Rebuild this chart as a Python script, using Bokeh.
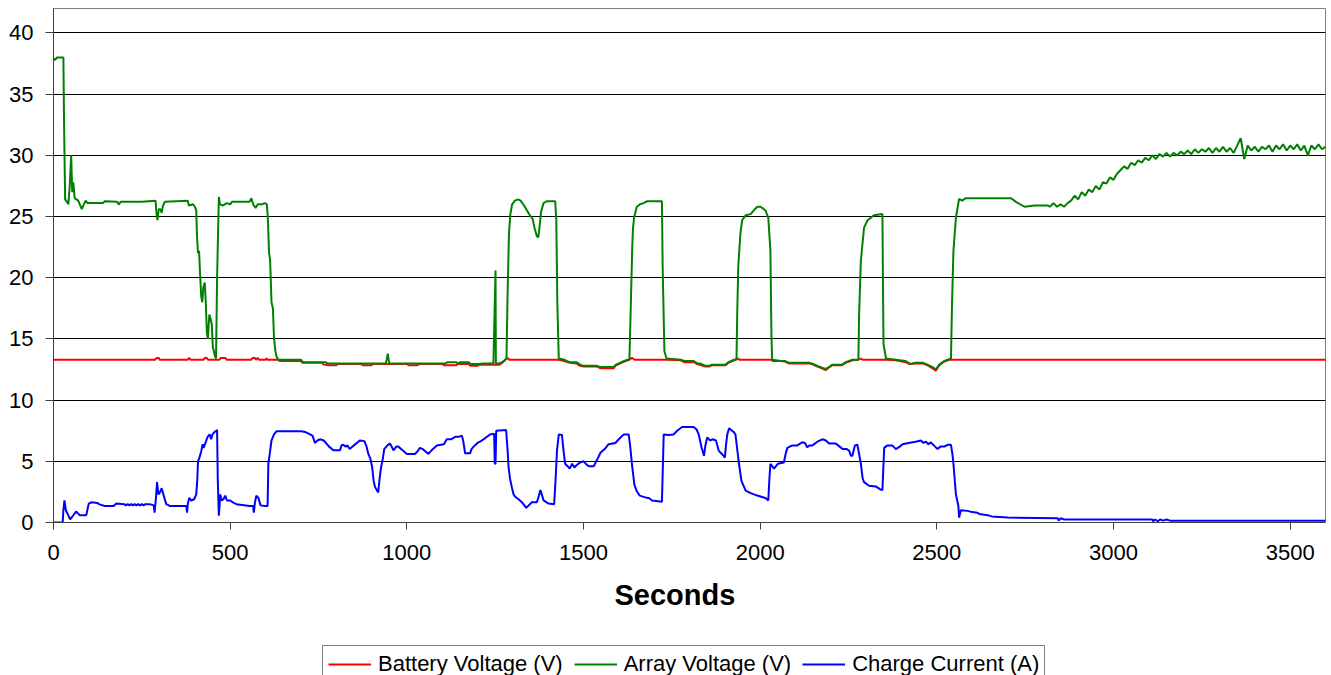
from bokeh.plotting import figure
from bokeh.models import Range1d, FixedTicker, Legend, LegendItem, ColumnDataSource, Title
from bokeh.layouts import column
from bokeh.embed import file_html
from bokeh.resources import INLINE

# ---------------- data ----------------
battery_t = [0, 288, 292, 298, 300, 380, 384, 388, 425, 428, 434, 437, 470, 473, 486, 490,
             560, 563, 570, 573, 578, 582, 600, 603, 606, 636, 640, 700, 705, 760, 765, 780,
             800, 805, 870, 875, 900, 905, 1000, 1005, 1030, 1035, 1100, 1105, 1140, 1145,
             1175, 1180, 1200, 1205, 1262, 1270, 1278, 1285, 1290, 1430, 1445, 1462, 1480,
             1490, 1500, 1538, 1548, 1585, 1592, 1600, 1615, 1630, 1637, 1645, 1735, 1775,
             1785, 1812, 1822, 1845, 1855, 1864, 1902, 1910, 1926, 1935, 1942, 2034, 2070,
             2081, 2138, 2150, 2162, 2175, 2185, 2192, 2204, 2232, 2242, 2261, 2278, 2284,
             2290, 2356, 2384, 2412, 2422, 2440, 2460, 2473, 2488, 2497, 2507, 2521, 2535, 3600]
battery_v = [13.3, 13.3, 13.45, 13.45, 13.3, 13.3, 13.45, 13.3, 13.3, 13.45, 13.45, 13.3, 13.3, 13.45, 13.45, 13.3,
             13.3, 13.45, 13.45, 13.3, 13.45, 13.3, 13.3, 13.4, 13.3, 13.3, 13.2, 13.2, 13.05, 13.05, 12.9, 12.85,
             12.85, 12.95, 12.95, 12.85, 12.85, 12.95, 12.95, 12.85, 12.85, 12.95, 12.95, 12.85, 12.85, 12.95,
             12.95, 12.8, 12.8, 12.9, 12.9, 13.05, 13.25, 13.45, 13.3, 13.3, 13.2, 13.05, 13.0,
             12.8, 12.75, 12.75, 12.6, 12.6, 12.85, 12.95, 13.15, 13.3, 13.45, 13.3, 13.3, 13.25,
             13.1, 13.1, 12.95, 12.75, 12.75, 12.85, 12.85, 13.05, 13.25, 13.4, 13.3, 13.3, 13.15,
             13.0, 13.0, 12.9, 12.75, 12.6, 12.45, 12.6, 12.85, 12.85, 13.05, 13.25, 13.3, 13.4,
             13.3, 13.3, 13.25, 13.1, 12.95, 13.0, 13.0, 12.85, 12.6, 12.4, 12.85, 13.15, 13.3, 13.3]

array_t = [0, 5, 10, 28, 30, 33, 38, 42, 46, 50, 53, 56, 60, 70, 76, 80, 86, 91, 96, 140,
           145, 180, 185, 190, 250, 289, 291, 294, 298, 303, 306, 310, 315, 380, 383, 395,
           400, 404, 406, 409, 412, 415, 418, 421, 424, 428, 431, 434, 437, 441, 445, 448,
           451, 454, 457, 460, 463, 466, 468, 471, 480, 490, 500, 505, 555, 560, 565, 572,
           578, 590, 598, 604, 607, 610, 613, 617, 621, 624, 628, 632, 636, 700, 706, 770,
           775, 940, 943, 946, 950, 1110, 1115, 1140, 1145, 1150, 1175, 1180, 1205, 1215,
           1245, 1248, 1251, 1252, 1262, 1270, 1278, 1282, 1285, 1289, 1293, 1298, 1306,
           1315, 1322, 1334, 1346, 1356, 1362, 1368, 1372, 1375, 1380, 1387, 1396, 1420,
           1423, 1426, 1430, 1445, 1452, 1462, 1480, 1490, 1500, 1538, 1548, 1585, 1592,
           1600, 1615, 1630, 1634, 1638, 1640, 1643, 1651, 1660, 1670, 1680, 1722, 1724,
           1729, 1735, 1775, 1785, 1812, 1822, 1830, 1845, 1855, 1864, 1902, 1910, 1926,
           1933, 1935, 1938, 1944, 1949, 1959, 1973, 1985, 1992, 2001, 2015, 2023, 2029,
           2032, 2034, 2070, 2081, 2138, 2150, 2162, 2175, 2185, 2192, 2204, 2232, 2242,
           2261, 2278, 2280, 2285, 2294, 2304, 2322, 2346, 2349, 2356, 2384, 2412, 2422,
           2426, 2440, 2460, 2473, 2488, 2497, 2507, 2521, 2535, 2540, 2543, 2547, 2554,
           2563, 2572, 2582, 2710, 2724, 2748, 2776, 2814,
           2820, 2830, 2840, 2850, 2860, 2870, 2880, 2890, 2900, 2910,
           2920, 2930, 2940, 2950, 2960, 2970, 2980, 2990, 3000, 3010,
           3020, 3030, 3040, 3050, 3060, 3070, 3080, 3090, 3100, 3110,
           3120, 3130, 3140, 3150, 3160, 3170, 3180, 3190, 3200, 3210,
           3220, 3230, 3240, 3250, 3260, 3270, 3280, 3290, 3300, 3310,
           3320, 3330, 3340, 3350, 3360, 3370, 3380, 3390, 3400, 3410,
           3420, 3430, 3440, 3450, 3460, 3470, 3480, 3490, 3500, 3510,
           3520, 3530, 3540, 3550, 3560, 3570, 3580, 3590, 3600]
array_v = [37.9, 37.8, 38.0, 38.0, 32.3, 26.4, 26.2, 26.0, 27.5, 30.0, 27.0, 27.8, 26.5, 26.3, 25.9, 25.6, 26.0, 26.3, 26.1, 26.1,
           26.25, 26.2, 26.0, 26.2, 26.2, 26.3, 25.4, 24.7, 25.6, 25.6, 25.3, 25.9, 26.2, 26.3, 25.9, 26.0,
           25.8, 25.5, 23.5, 22.0, 22.2, 20.2, 18.5, 18.0, 19.2, 19.6, 18.0, 15.5, 15.0, 17.0, 16.6, 16.2,
           14.3, 14.0, 13.6, 13.4, 20.0, 24.0, 26.6, 26.0, 25.9, 26.1, 26.0, 26.2, 26.2, 26.5, 26.0, 25.7,
           26.0, 26.0, 26.1, 26.0, 24.7, 22.0, 21.5, 18.0, 17.5, 15.1, 14.0, 13.5, 13.3, 13.3, 13.1, 13.1,
           13.0, 13.0, 13.3, 13.8, 13.0, 13.0, 13.1, 13.1, 12.95, 13.1, 13.1, 12.95, 12.95, 13.0,
           13.0, 16.8, 20.6, 13.0, 13.0, 13.1, 13.3, 13.4, 18.4, 23.6, 25.2, 26.0, 26.3,
           26.4, 26.3, 25.8, 25.2, 24.8, 24.0, 23.4, 23.3, 24.0, 25.4, 26.1, 26.25, 26.25,
           24.7, 17.9, 13.4, 13.3, 13.2, 13.1, 13.1, 12.9, 12.8, 12.8, 12.7, 12.7, 12.9,
           13.0, 13.2, 13.35, 17.9, 22.5, 24.0, 24.9, 25.8, 26.0, 26.1, 26.25, 26.25, 20.9,
           14.0, 13.4, 13.3, 13.2, 13.2, 13.0, 13.0, 12.8, 12.8, 12.9, 12.9, 13.1, 13.3,
           13.3, 17.0, 20.9, 23.6, 24.7, 25.1, 25.2, 25.6, 25.8, 25.8, 25.5, 24.9, 22.2,
           15.1, 13.2, 13.2, 13.05, 13.05, 12.95, 12.8, 12.65, 12.55, 12.65, 12.9, 12.9, 13.1,
           13.3, 13.3, 17.0, 21.4, 24.1, 24.7, 25.1, 25.2, 14.6, 13.4, 13.3, 13.2, 13.0,
           12.95, 13.05, 13.05, 12.9, 12.7, 12.5, 12.9, 13.2, 13.35, 13.35, 17.9, 22.2, 24.9,
           26.45, 26.3, 26.5, 26.5, 26.2, 25.8, 25.9, 25.9,
           25.8, 26.1, 25.8, 26.0, 25.8, 26.1, 26.3, 26.7, 26.4, 27.0,
           26.7, 27.2, 27.0, 27.5, 27.2, 27.8, 27.7, 28.2, 28.0, 28.5,
           28.8, 29.1, 28.9, 29.4, 29.2, 29.6, 29.4, 29.8, 29.6, 30.0,
           29.7, 30.1, 29.9, 30.2, 29.9, 30.2, 30.0, 30.3, 30.1, 30.4,
           30.1, 30.5, 30.2, 30.5, 30.3, 30.6, 30.2, 30.6, 30.3, 30.7,
           30.3, 30.6, 30.2, 30.8, 31.4, 29.7, 30.8, 30.4, 30.7, 30.3,
           30.7, 30.5, 30.8, 30.3, 30.8, 30.5, 30.9, 30.4, 30.8, 30.5,
           30.9, 30.4, 30.8, 30.0, 30.8, 30.5, 30.9, 30.5, 30.7]

current_t = [0, 26, 28, 31, 35, 40, 47, 55, 64, 74, 93, 97, 100, 107, 125, 128, 145, 170, 178,
             200, 205, 210, 215, 220, 225, 230, 235, 240, 245, 250, 255, 260, 272, 284, 286,
             290, 293, 297, 302, 306, 310, 315, 319, 329, 376, 378, 380, 384, 390, 398, 404,
             407, 409, 413, 418, 422, 425, 430, 436, 442, 446, 450, 456, 463, 465, 468, 472,
             476, 481, 486, 491, 500, 510, 518, 555, 565, 567, 570, 574, 580, 586, 598, 606,
             608, 612, 617, 624, 631, 702, 712, 726, 733, 740, 747, 754, 765, 780, 792, 811,
             815, 820, 827, 832, 838, 850, 867, 880, 886, 891, 897, 902, 906, 910, 919, 923,
             927, 932, 936, 945, 952, 957, 962, 970, 976, 988, 1000, 1023, 1030, 1037, 1045,
             1053, 1061, 1070, 1085, 1105, 1113, 1125, 1137, 1147, 1156, 1160, 1165, 1179,
             1183, 1189, 1200, 1207, 1222, 1236, 1247, 1249, 1251, 1253, 1281, 1285, 1288,
             1292, 1297, 1302, 1307, 1316, 1326, 1338, 1345, 1354, 1368, 1374, 1378, 1383,
             1387, 1401, 1417, 1421, 1425, 1430, 1439, 1443, 1448, 1455, 1461, 1468, 1474,
             1481, 1490, 1500, 1508, 1515, 1529, 1538, 1548, 1560, 1571, 1590, 1600, 1614,
             1628, 1633, 1637, 1644, 1650, 1659, 1675, 1685, 1694, 1722, 1727, 1741, 1755,
             1765, 1779, 1812, 1820, 1826, 1834, 1841, 1845, 1850, 1859, 1865, 1875, 1883,
             1895, 1900, 1904, 1907, 1912, 1916, 1925, 1930, 1935, 1940, 1947, 1959, 1973,
             1992, 2015, 2023, 2026, 2029, 2034, 2039, 2050, 2067, 2072, 2077, 2091, 2105,
             2119, 2127, 2133, 2140, 2148, 2162, 2176, 2186, 2195, 2214, 2225, 2233, 2245,
             2252, 2257, 2261, 2268, 2275, 2280, 2285, 2290, 2294, 2308, 2327, 2340, 2346,
             2351, 2360, 2374, 2384, 2395, 2403, 2420, 2440, 2455, 2462, 2469, 2476, 2483,
             2495, 2502, 2510, 2521, 2530, 2540, 2544, 2547, 2554, 2561, 2563, 2568, 2587,
             2600, 2615, 2620, 2644, 2655, 2700, 2842, 2845, 2850, 2861, 3110, 3112, 3118,
             3125, 3132, 3140, 3150, 3160, 3600]
current_v = [0.0, 0.0, 1.0, 1.8, 1.0, 0.7, 0.25, 0.55, 0.9, 0.6, 0.6, 1.2, 1.55, 1.65, 1.6, 1.5, 1.35, 1.35, 1.55,
             1.5, 1.4, 1.5, 1.4, 1.5, 1.4, 1.5, 1.4, 1.5, 1.4, 1.5, 1.4, 1.5, 1.5, 1.4, 0.8,
             2.0, 3.3, 2.3, 2.5, 2.8, 2.4, 1.9, 1.5, 1.35, 1.35, 0.8, 1.5, 2.0, 1.8, 1.9, 2.3,
             3.5, 5.0, 5.3, 5.8, 6.4, 6.1, 6.5, 7.0, 7.2, 6.8, 7.2, 7.4, 7.55, 3.4, 0.55, 2.3,
             1.8, 1.9, 2.2, 1.8, 1.8, 1.6, 1.5, 1.35, 1.35, 0.8, 1.6, 2.2, 2.0, 1.4, 1.35, 1.35,
             4.8, 5.6, 6.7, 7.2, 7.45, 7.45, 7.4, 7.2, 7.1, 6.5, 6.7, 6.8, 6.7, 6.2, 5.9, 5.9,
             6.3, 6.35, 6.2, 6.3, 6.0, 6.3, 6.7, 6.65, 6.2, 5.6, 5.2, 4.5, 3.4, 2.9, 2.45, 3.6,
             4.5, 5.2, 6.0, 6.3, 6.45, 6.2, 5.9, 6.2, 6.2, 5.9, 5.6, 5.6, 5.8, 6.1, 6.0,
             5.8, 5.6, 5.9, 6.3, 6.4, 6.8, 6.8, 7.0, 7.0, 7.1, 6.6, 5.65, 5.65,
             6.0, 6.2, 6.5, 6.6, 6.9, 7.2, 7.25, 4.8, 4.8, 7.5, 7.55, 6.0, 4.5,
             3.6, 2.9, 2.3, 2.1, 1.9, 1.65, 1.2, 1.4, 1.65, 1.65, 2.2, 2.65, 2.2,
             1.8, 1.55, 1.5, 3.5, 5.9, 7.2, 7.15, 6.0, 4.8, 4.6, 4.4, 4.8, 4.5,
             4.7, 4.9, 5.0, 4.75, 4.6, 4.6, 5.1, 5.7, 6.0, 6.4, 6.5, 6.8, 7.2,
             7.2, 6.0, 4.8, 3.1, 2.6, 2.2, 2.05, 2.0, 1.8, 1.7, 7.2, 7.15, 7.2,
             7.5, 7.8, 7.8, 7.6, 7.2, 6.15, 5.45, 6.3, 6.95, 6.7, 6.8, 6.7, 5.85,
             5.5, 5.3, 6.5, 7.2, 7.7, 7.6, 7.4, 7.2, 6.0, 4.8, 3.4, 2.6, 2.4,
             2.2, 2.0, 1.8, 3.5, 4.8, 4.6, 4.4, 4.8, 4.9, 5.6, 6.1, 6.3, 6.3,
             6.55, 6.5, 6.15, 6.3, 6.3, 6.6, 6.8, 6.7, 6.45, 6.45, 6.2, 6.0, 6.0,
             5.85, 5.45, 5.45, 6.3, 6.35, 5.6, 4.8, 3.6, 3.3, 3.0, 2.95, 2.7, 2.65,
             6.1, 6.3, 6.3, 6.0, 6.2, 6.4, 6.5, 6.6, 6.7, 6.5, 6.6, 6.4, 6.55,
             6.2, 6.0, 6.2, 6.2, 6.35, 6.35, 5.6, 4.8, 2.3, 1.35, 0.4, 1.0, 0.95,
             0.85, 0.8, 0.7, 0.6, 0.5, 0.4, 0.35, 0.15, 0.35, 0.25, 0.25, 0.1, 0.25,
             0.1, 0.25, 0.15, 0.25, 0.15, 0.15]

series_names = ["Battery Voltage (V)", "Array Voltage (V)", "Charge Current (A)"]
series_colors = ["#FF0000", "#008000", "#0000FF"]
x_ticks = [0, 500, 1000, 1500, 2000, 2500, 3000, 3500]
y_ticks = [0, 5, 10, 15, 20, 25, 30, 35, 40]
x_label = "Seconds"

FONT = "Liberation Sans"

# ---------------- main chart ----------------
p = figure(width=1331, height=640, x_range=Range1d(0, 3600), y_range=Range1d(0, 42),
           output_backend="svg", toolbar_location=None,
           min_border_left=53, min_border_right=6, min_border_top=8, min_border_bottom=118,
           background_fill_color="white", border_fill_color="white")
p.outline_line_color = "#808080"
p.outline_line_width = 1

p.xgrid.grid_line_color = None
p.ygrid.grid_line_color = "#000000"
p.ygrid.grid_line_width = 1
p.ygrid.ticker = FixedTicker(ticks=y_ticks)

p.xaxis.ticker = FixedTicker(ticks=x_ticks)
p.yaxis.ticker = FixedTicker(ticks=y_ticks)
for ax in (p.xaxis[0], p.yaxis[0]):
    ax.major_label_text_font = FONT
    ax.major_label_text_font_size = "22px"
    ax.major_label_text_color = "#000000"
    ax.minor_tick_line_color = None
    ax.major_tick_in = 0
    ax.axis_line_color = "#404040"
    ax.major_tick_line_color = "#404040"
p.xaxis.major_tick_out = 7
p.yaxis.major_tick_out = 8
p.yaxis.major_label_standoff = 12
p.xaxis.major_label_standoff = 15

# axis title, placed a little left of the plot centre as in the reference
p.add_layout(Title(text=x_label, align="left", offset=561, standoff=29,
                   text_font=FONT, text_font_size="29px", text_font_style="bold",
                   text_color="#000000"), "below")

sources = []
for t, v, c in [(battery_t, battery_v, series_colors[0]),
                (array_t, array_v, series_colors[1]),
                (current_t, current_v, series_colors[2])]:
    src = ColumnDataSource(dict(x=t, y=v))
    sources.append(src)
    p.line("x", "y", source=src, line_color=c, line_width=2)

# ---------------- legend strip under the chart ----------------
# same series drawn again into a strip whose y range holds no data, so only the legend shows
lg = figure(width=1331, height=35, x_range=Range1d(0, 3600), y_range=Range1d(-200, -100),
            output_backend="svg", toolbar_location=None,
            x_axis_location=None, y_axis_location=None,
            min_border_left=0, min_border_right=0, min_border_top=0, min_border_bottom=0,
            background_fill_color="white", border_fill_color="white")
lg.outline_line_color = None
lg.xgrid.visible = False
lg.ygrid.visible = False
keys = [lg.line("x", "y", source=s, line_color=c, line_width=2)
        for s, c in zip(sources, series_colors)]

legend = Legend(items=[LegendItem(label=n, renderers=[r]) for n, r in zip(series_names, keys)],
                orientation="horizontal", location=(269, -8))
legend.label_text_font = FONT
legend.label_text_font_size = "22px"
legend.label_text_color = "#000000"
legend.glyph_width = 43
legend.glyph_height = 20
legend.label_standoff = 7
legend.spacing = 11
legend.padding = 5
legend.margin = 0
legend.border_line_color = "#000000"
legend.border_line_width = 1
legend.background_fill_color = "white"
lg.add_layout(legend, "center")

layout = column(p, lg, spacing=0)
open("out.html", "w").write(file_html(layout, INLINE))
